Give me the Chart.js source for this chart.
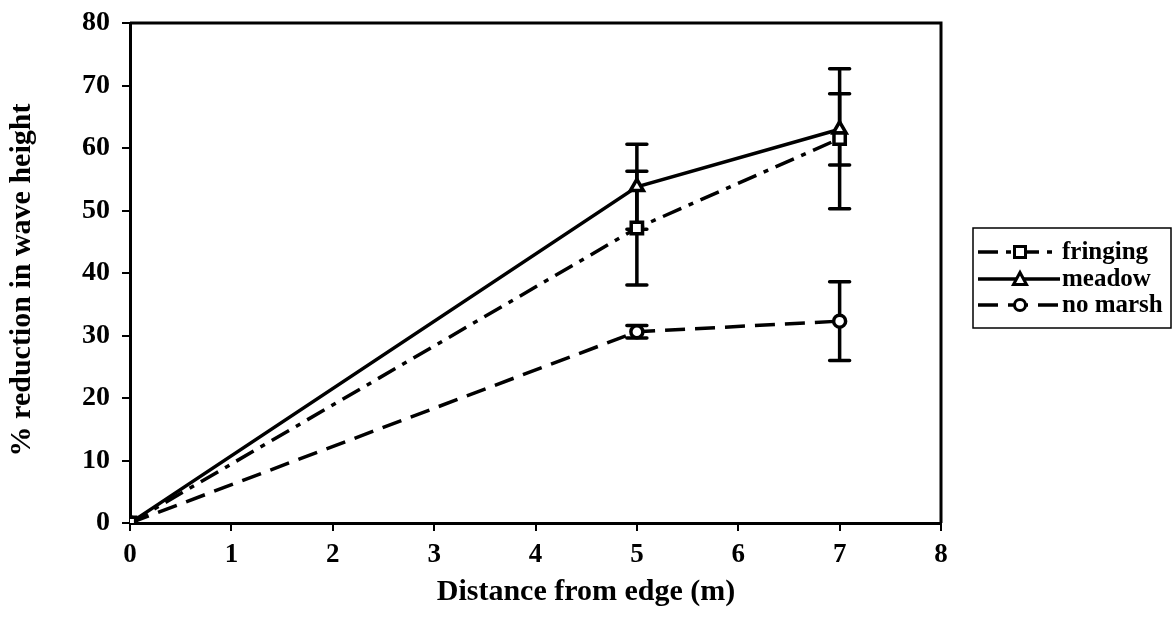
<!DOCTYPE html>
<html>
<head>
<meta charset="utf-8">
<script src="https://cdn.jsdelivr.net/npm/chart.js@4/dist/chart.umd.min.js"></script>
<style>
html,body{margin:0;padding:0;background:#fff;}
#wrap{width:1173px;height:630px;position:relative;}
</style>
</head>
<body>
<div id="wrap"><canvas id="c" width="1173" height="630"></canvas></div>
<script>
const distances = [0, 5, 7];
const fringing = [0, 47.2, 61.5];
const meadow = [0, 53.8, 63.0];
const noMarsh = [0, 30.6, 32.3];
const fringingErr = [0, 9.1, 11.2];
const meadowErr = [0, 6.8, 5.7];
const noMarshErr = [0, 1.0, 6.3];
const seriesNames = ['fringing', 'meadow', 'no marsh'];
const xTitle = 'Distance from edge (m)';
const yTitle = '% reduction in wave height';

const FONT = '"Liberation Serif", "Times New Roman", serif';
const toPts = (ys) => distances.map((x, i) => ({x: x, y: ys[i]}));

const errorBars = {
  id: 'errorBars',
  beforeDatasetsDraw(chart) {
    const ctx = chart.ctx, xs = chart.scales.x, ys = chart.scales.y;
    ctx.save();
    ctx.strokeStyle = '#000';
    ctx.lineWidth = 3.5;
    ctx.lineCap = 'round';
    chart.data.datasets.forEach(ds => {
      ds.errors.forEach((e, i) => {
        if (!e) return;
        const px = xs.getPixelForValue(distances[i]);
        const hi = ys.getPixelForValue(ds.data[i].y + e);
        const lo = ys.getPixelForValue(ds.data[i].y - e);
        ctx.beginPath();
        ctx.moveTo(px, hi); ctx.lineTo(px, lo);
        ctx.moveTo(px - 10, hi); ctx.lineTo(px + 10, hi);
        ctx.moveTo(px - 10, lo); ctx.lineTo(px + 10, lo);
        ctx.stroke();
      });
    });
    ctx.restore();
  }
};

const frameAndLegend = {
  id: 'frameAndLegend',
  afterDraw(chart) {
    const ctx = chart.ctx, a = chart.chartArea;
    ctx.save();
    ctx.strokeStyle = '#000';
    ctx.lineWidth = 3;
    ctx.beginPath();
    ctx.moveTo(a.left, a.top); ctx.lineTo(a.right, a.top); ctx.lineTo(a.right, a.bottom);
    ctx.stroke();
    // axis titles
    ctx.fillStyle = '#000';
    ctx.font = 'bold 30px ' + FONT;
    ctx.textAlign = 'center';
    ctx.textBaseline = 'middle';
    ctx.fillText(xTitle, 586, 592);
    ctx.save();
    ctx.translate(22, 280);
    ctx.rotate(-Math.PI / 2);
    ctx.fillText(yTitle, 0, 0);
    ctx.restore();
    // legend
    const bx = 973, by = 228, bw = 198, bh = 100;
    ctx.lineWidth = 1.5;
    ctx.strokeRect(bx, by, bw, bh);
    const rows = [252, 279, 305];
    chart.data.datasets.forEach((ds, i) => {
      const y = rows[i];
      ctx.save();
      ctx.lineWidth = 3.5;
      ctx.setLineDash(ds.borderDash || []);
      ctx.beginPath();
      ctx.moveTo(978, y); ctx.lineTo(1060, y);
      ctx.stroke();
      ctx.restore();
      ctx.fillStyle = '#fff';
      ctx.lineWidth = 3;
      const mx = 1020, r = 5.5;
      ctx.beginPath();
      if (ds.pointStyle === 'rect') {
        ctx.rect(mx - r, y - r, 2 * r, 2 * r);
      } else if (ds.pointStyle === 'triangle') {
        ctx.moveTo(mx, y - r - 1); ctx.lineTo(mx + r + 1, y + r); ctx.lineTo(mx - r - 1, y + r); ctx.closePath();
      } else {
        ctx.arc(mx, y, r, 0, Math.PI * 2);
      }
      ctx.fill(); ctx.stroke();
      ctx.fillStyle = '#000';
      ctx.font = 'bold 25px ' + FONT;
      ctx.textAlign = 'left';
      ctx.textBaseline = 'middle';
      ctx.fillText(ds.label, 1062, y + 1);
    });
    ctx.restore();
  }
};

const mkDs = (label, ys, errs, style, dash, r) => ({
  label: label,
  data: toPts(ys),
  errors: errs,
  borderColor: '#000',
  backgroundColor: '#fff',
  borderWidth: 3.5,
  borderDash: dash,
  pointStyle: style,
  pointRadius: r,
  pointBorderWidth: 3.5,
  pointBackgroundColor: '#fff',
  pointBorderColor: '#000',
  showLine: true,
  tension: 0
});

new Chart(document.getElementById('c'), {
  type: 'scatter',
  data: {
    datasets: [
      mkDs(seriesNames[0], fringing, fringingErr, 'rect', [20, 8, 5, 8], 8),
      mkDs(seriesNames[1], meadow, meadowErr, 'triangle', [], 7.5),
      mkDs(seriesNames[2], noMarsh, noMarshErr, 'circle', [20, 10], 6)
    ]
  },
  options: {
    responsive: false,
    animation: false,
    layout: {padding: {left: 0, right: 232, top: 23, bottom: 0}},
    plugins: {legend: {display: false}, tooltip: {enabled: false}},
    scales: {
      x: {
        type: 'linear', min: 0, max: 8,
        afterFit: (s) => { s.height = 630 - 523; s.paddingLeft = 0; s.paddingRight = 0; },
        ticks: {stepSize: 1, color: '#000', font: {family: FONT, size: 27, weight: 'bold'}, padding: 8},
        grid: {display: true, drawOnChartArea: false, drawTicks: true, tickLength: 8, color: '#000', lineWidth: 2},
        border: {display: true, color: '#000', width: 3}
      },
      y: {
        min: 0, max: 80,
        afterFit: (s) => { s.width = 130; s.paddingTop = 0; s.paddingBottom = 0; },
        ticks: {stepSize: 10, color: '#000', font: {family: FONT, size: 28, weight: 'bold'}, padding: 12},
        grid: {display: true, drawOnChartArea: false, drawTicks: true, tickLength: 8, color: '#000', lineWidth: 2},
        border: {display: true, color: '#000', width: 3}
      }
    }
  },
  plugins: [errorBars, frameAndLegend]
});
</script>
</body>
</html>
